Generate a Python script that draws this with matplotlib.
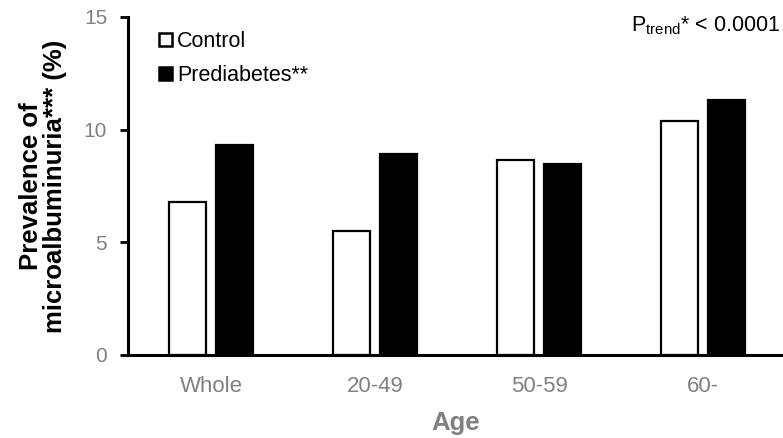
import matplotlib
matplotlib.use("Agg")
import matplotlib.pyplot as plt
from matplotlib.patches import Patch
import numpy as np

categories = ["Whole", "20-49", "50-59", "60-"]
control = [6.8, 5.5, 8.65, 10.4]
prediabetes = [9.3, 8.93, 8.48, 11.3]
yticks = [0, 5, 10, 15]

plt.rcParams['font.family'] = ['Liberation Sans', 'DejaVu Sans']
plt.rcParams['mathtext.fontset'] = 'custom'
plt.rcParams['mathtext.rm'] = 'Liberation Sans'
plt.rcParams['mathtext.bf'] = 'Liberation Sans:bold'

fig = plt.figure(figsize=(7.83, 4.38), dpi=100)
ax = fig.add_axes([128/783, (438-355)/438, 1-128/783, (355-17)/438])

x = np.arange(len(categories))
w = 0.226
off = 0.142
ax.bar(x - off, control, width=w, facecolor='white', edgecolor='black', linewidth=1.6, zorder=2)
ax.bar(x + off, prediabetes, width=w, facecolor='black', edgecolor='black', linewidth=1.6, zorder=2)

ax.set_xlim(-0.506, 3.488)
ax.set_ylim(0, 15)
ax.set_yticks(yticks)
ax.set_xticks(x)
ax.set_xticklabels(categories, fontsize=16, color='#808080')
ax.tick_params(axis='x', length=0, pad=15)
ax.tick_params(axis='y', labelsize=15, labelcolor='#808080', length=6, width=2, direction='out', pad=9)

for s in ['top', 'right']:
    ax.spines[s].set_visible(False)
ax.spines['left'].set_linewidth(2.2)
ax.spines['bottom'].set_linewidth(2.2)

ax.set_xlabel("Age", fontsize=18.5, fontweight='bold', color='#808080', labelpad=10.5)
ax.set_ylabel("Prevalence of\nmicroalbuminuria*** (%)", fontsize=18.5,
              fontweight='bold', color='black', labelpad=12, linespacing=1.0)

handles = [Patch(facecolor='white', edgecolor='black', linewidth=1.8, label='Control'),
           Patch(facecolor='black', edgecolor='black', linewidth=1.8, label='Prediabetes**')]
ax.legend(handles=handles, loc='upper left', bbox_to_anchor=(0.047, 0.958), frameon=False,
          borderaxespad=0, borderpad=0,
          fontsize=15.5, handlelength=0.6, handleheight=0.6, handletextpad=0.25, labelspacing=0.6)

ax.text(0.996, 0.975, "P$_\\mathregular{trend}$* < 0.0001", transform=ax.transAxes,
        ha='right', va='center', fontsize=15.5, color='black')

fig.savefig("out.png", dpi=100)
